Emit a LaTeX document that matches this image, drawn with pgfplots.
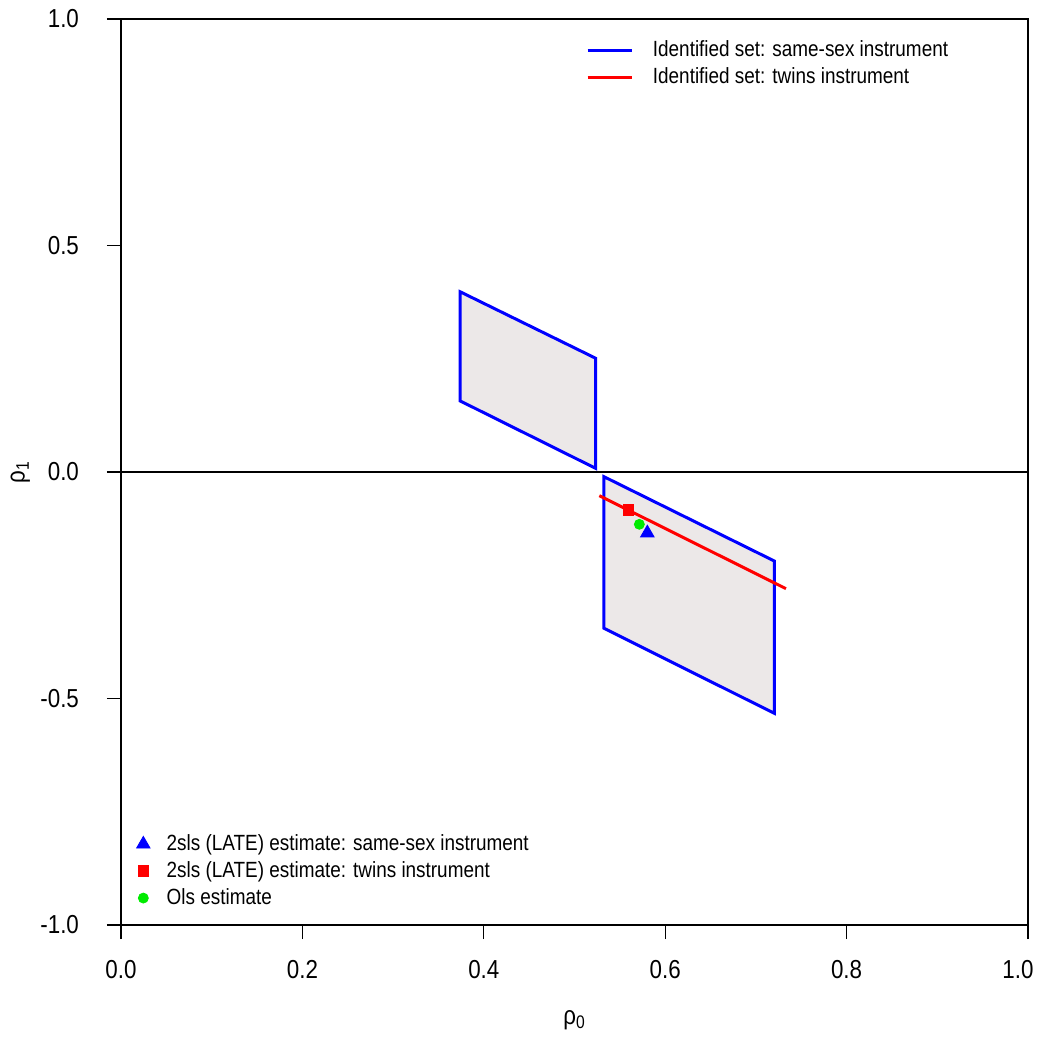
\documentclass[border=0pt]{standalone}
\usepackage{fontspec}
\setmainfont{Liberation Sans}[FakeStretch=0.86]
\usepackage{pgfplots}
\pgfplotsset{compat=1.18}
\definecolor{setfill}{RGB}{236,232,232}
\definecolor{mygreen}{RGB}{0,235,0}
\begin{document}
\begin{tikzpicture}
\begin{axis}[
  scale only axis, width=453.5pt, height=453pt,
  xmin=0, xmax=1, ymin=-1, ymax=1,
  xtick={0,0.2,0.4,0.6,0.8,1}, ytick={-1,-0.5,0,0.5,1},
  xticklabels={0.0,0.2,0.4,0.6,0.8,{\hspace*{-10pt}1.0}},
  tick align=outside, major tick length=7pt, tick pos=left,
  axis line style={line width=0.75pt},
  every tick/.style={black, line width=0.6pt},
  /pgf/number format/fixed, /pgf/number format/fixed zerofill,
  /pgf/number format/precision=1, /pgf/number format/assume math mode=true,
  ticklabel style={font=\fontsize{13}{15}\selectfont},
  yticklabel style={xshift=-10.5pt},
  xticklabel style={yshift=-7pt},
  xlabel={ρ\textsubscript{0}}, ylabel={ρ\textsubscript{1}},
  label style={font=\fontsize{13}{15}\selectfont},
  xlabel style={at={(axis description cs:0.5,-0.105)}, anchor=center},
  ylabel style={at={(axis description cs:-0.111,0.5)}, anchor=center},
  legend style={at={(axis description cs:0.506,0.985)}, anchor=north west, draw=none, fill=none,
    font=\fontsize{11}{13}\selectfont, row sep=0pt},
  legend cell align=left,
  legend image code/.code={\draw[#1] (0pt,0pt) -- (22pt,0pt); \path (30pt,0pt);},
]
\addplot[draw=blue, line width=1.5pt, fill=setfill, forget plot] coordinates {
  (0.3738,0.398) (0.5234,0.251) (0.5234,0.008) (0.3738,0.157)} -- cycle;
\addplot[draw=blue, line width=1.5pt, fill=setfill, forget plot] coordinates {
  (0.5325,-0.0104) (0.7203,-0.1965) (0.7203,-0.5327) (0.5325,-0.345)} -- cycle;
\addplot[black, line width=0.6pt, forget plot] coordinates {(0,0) (1,0)};
\addplot[red, line width=1.5pt, forget plot] coordinates {(0.5274,-0.0523) (0.7332,-0.2576)};
\addlegendimage{blue, line width=1.3pt}
\addlegendentry{Identified set: same-sex instrument}
\addlegendimage{red, line width=1.3pt}
\addlegendentry{Identified set: twins instrument}
\end{axis}
\begin{axis}[
  scale only axis, width=453.5pt, height=453pt,
  xmin=0, xmax=1, ymin=-1, ymax=1, hide axis,
  legend style={at={(axis description cs:0.0083,0.01)}, anchor=south west, draw=none, fill=none,
    font=\fontsize{11}{13}\selectfont, row sep=0pt},
  legend cell align=left,
  legend image code/.code={\path (-4pt,0pt) (9.5pt,0pt); \draw[#1] plot coordinates {(0pt,0pt)};},
]
\addplot[only marks, mark=triangle*, mark size=3.9pt, blue] coordinates {(0.5803,-0.1347)};
\addlegendentry{2sls (LATE) estimate: same-sex instrument}
\addplot[only marks, mark=square*, mark size=2.67pt, red] coordinates {(0.5593,-0.0839)};
\addlegendentry{2sls (LATE) estimate: twins instrument}
\addplot[only marks, mark=*, mark size=2.5pt, mygreen] coordinates {(0.5715,-0.1155)};
\addlegendentry{Ols estimate}
\end{axis}
\pgfresetboundingbox
\path (current axis.south west) ++(-60.5pt,-57pt) coordinate (bl);
\path (current axis.north east) ++(6pt,9.5pt) coordinate (tr);
\useasboundingbox (bl) rectangle (tr);
\end{tikzpicture}
\end{document}
